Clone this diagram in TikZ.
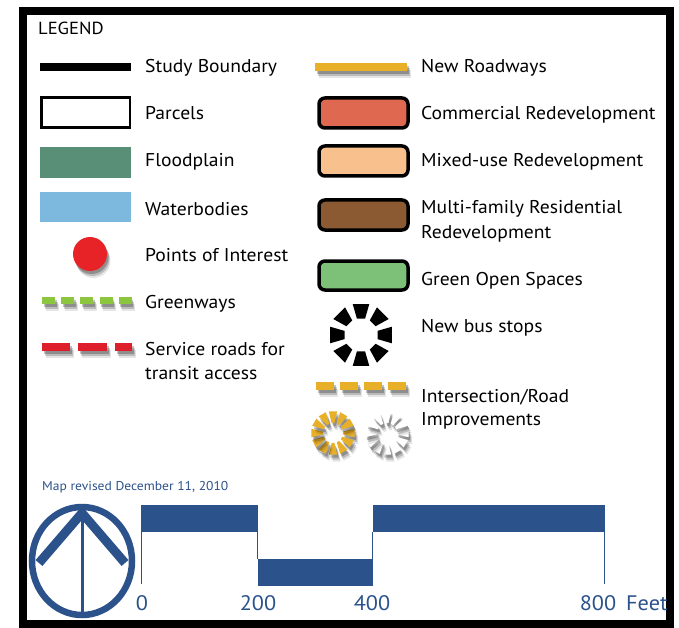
\documentclass[tikz,border=0pt]{standalone}
\usepackage{fontspec}
\usetikzlibrary{calc}
\setmainfont[FakeStretch=1.06]{PT Sans}
\definecolor{flood}{RGB}{88,143,118}
\definecolor{water}{RGB}{125,185,222}
\definecolor{poi}{RGB}{232,35,40}
\definecolor{greenway}{RGB}{140,198,63}
\definecolor{service}{RGB}{222,30,42}
\definecolor{road}{RGB}{232,176,40}
\definecolor{comm}{RGB}{222,105,80}
\definecolor{mixed}{RGB}{248,192,140}
\definecolor{multi}{RGB}{140,90,50}
\definecolor{openg}{RGB}{125,192,120}
\definecolor{mapblue}{RGB}{44,82,140}
\tikzset{
  lbl/.style={anchor=base west, inner sep=0pt, yshift=-1pt, font=\fontsize{18.5}{21}\selectfont},
  sh/.style={
    preaction={fill=black,opacity=0.24,transform canvas={shift={(1.5,3)}}},
    preaction={fill=black,opacity=0.18,transform canvas={shift={(2.5,5)}}},
    preaction={fill=black,opacity=0.10,transform canvas={shift={(3.5,7)}}}},
  devbox/.style={line width=3.5pt, rounded corners=6pt},
  scalebar/.style={fill=mapblue},
  tick/.style={draw=mapblue, line width=1.2pt},
  scalelbl/.style={anchor=base, inner sep=0pt, text=mapblue, font=\fontsize{21}{24}\selectfont}
}
\begin{document}
\begin{tikzpicture}[x=1pt,y=-1pt]
\useasboundingbox (0,0) rectangle (679,628);
\fill[white] (0,0) rectangle (679,628);
\draw[line width=8pt] (22.5,11) rectangle (669.5,624);

\node[lbl, font=\fontsize{17.5}{20}\selectfont] (legend) at (38,34) {LEGEND};

% left column
\fill[black] (40,63) rectangle (131,71);
\node[lbl] (t1) at (145,72) {Study Boundary};
\draw[line width=2.5pt, fill=white] (41.5,97.5) rectangle (130,127.5);
\node[lbl] (t2) at (145,119) {Parcels};
\fill[flood] (40,147) rectangle (131,178);
\node[lbl] (t3) at (145,166) {Floodplain};
\fill[water] (40,192) rectangle (131,222);
\node[lbl] (t4) at (145,214) {Waterbodies};
\fill[poi, sh] (90,254) circle[radius=17];
\node[lbl] (t5) at (145,260) {Points of Interest};
\foreach \i in {0,...,4} {
  \fill[greenway, sh] (42+\i*19.2,297) rectangle ++(13,7);
}
\node[lbl] (t6) at (145,307) {Greenways};
\fill[service, sh] (42,343) rectangle (70,351);
\fill[service, sh] (78,343) rectangle (107,351);
\fill[service, sh] (115,343) rectangle (132,351);
\node[lbl] (t7) at (145,354) {Service roads for};
\node[lbl] (t7b) at (145,378) {transit access};

% right column
\fill[road, sh] (315,63) rectangle (407,71);
\node[lbl] (r1) at (421,72) {New Roadways};
\draw[devbox, fill=comm] (319,98) rectangle (408,128);
\node[lbl] (r2) at (421,119) {Commercial Redevelopment};
\draw[devbox, fill=mixed] (319,146) rectangle (408,176);
\node[lbl] (r3) at (421,166) {Mixed-use Redevelopment};
\draw[devbox, fill=multi] (319,200) rectangle (408,230);
\node[lbl] (r4) at (421,213) {Multi-family Residential};
\node[lbl] (r4b) at (421,237) {Redevelopment};
\draw[devbox, fill=openg] (319,261) rectangle (408,290);
\node[lbl] (r5) at (421,284) {Green Open Spaces};
\foreach \a in {0,45,...,315} {
  \fill[black] ($(361,335)+(\a-15:32)$) -- ($(361,335)+(\a+15:32)$) -- ($(361,335)+(\a+14:17)$) -- ($(361,335)+(\a-14:17)$) -- cycle;
}
\node[lbl] (r6) at (421,331) {New bus stops};
\foreach \i in {0,...,3} {
  \fill[road, sh] (316+\i*24,382) rectangle ++(18,8);
}
\node[lbl] (r7) at (421,401) {Intersection/Road};
\node[lbl] (r7b) at (421,424) {Improvements};
\foreach \a in {0,30,...,330} {
  \fill[road, sh] ($(333,433)+(\a-11:22)$) -- ($(333,433)+(\a+11:22)$) -- ($(333,433)+(\a+8:10)$) -- ($(333,433)+(\a-8:10)$) -- cycle;
  \fill[white, sh] ($(387,433)+(\a-11:22)$) -- ($(387,433)+(\a+11:22)$) -- ($(387,433)+(\a+8:10)$) -- ($(387,433)+(\a-8:10)$) -- cycle;
}

% bottom
\node[anchor=base west, inner sep=0pt, text=mapblue, font=\fontsize{12.8}{14}\selectfont] (rev) at (42,490) {Map revised December 11, 2010};
\draw[mapblue, line width=6.5pt] (82,561) ellipse[x radius=50, y radius=54];
\draw[mapblue, line width=3pt] (82,512) -- (82,614);
\draw[mapblue, line width=9pt, miter limit=10] (39,563) -- (82,513) -- (125,563);

\fill[scalebar] (141,505) rectangle (257.5,532);
\fill[scalebar] (257.5,559) rectangle (372.5,586);
\fill[scalebar] (372.5,505) rectangle (605,532);
\draw[tick] (141.6,532) -- (141.6,584);
\draw[tick] (257.5,532) -- (257.5,559);
\draw[tick] (372.5,532) -- (372.5,559);
\draw[tick] (604.4,532) -- (604.4,584);
\node[scalelbl] (s0) at (142,610) {0};
\node[scalelbl] (s200) at (258,610) {200};
\node[scalelbl] (s400) at (372,610) {400};
\node[scalelbl] (s800) at (598,610) {800};
\node[scalelbl, anchor=base west] (feet) at (626,610) {Feet};
\end{tikzpicture}
\end{document}
